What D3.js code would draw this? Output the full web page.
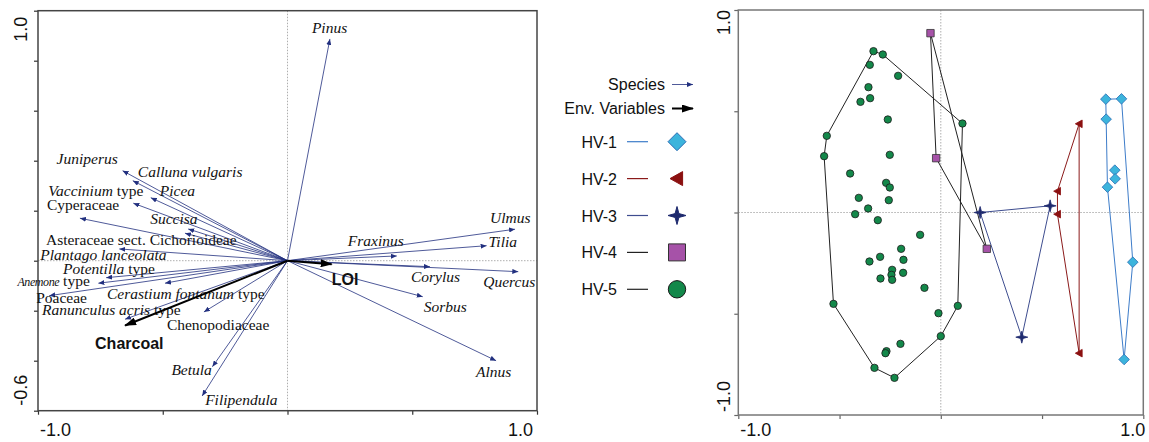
<!DOCTYPE html>
<html><head><meta charset="utf-8">
<script src="https://cdn.jsdelivr.net/npm/d3@7"></script>
<style>body{margin:0;background:#fff} svg{display:block}</style>
</head><body><svg id="c" width="1149" height="442"></svg>
<script>
// ---------------- DATA ----------------
const species = ["Pinus","Ulmus","Tilia","Fraxinus","Corylus","Quercus","Sorbus","Alnus",
  "Juniperus","Calluna vulgaris","Picea","Vaccinium type","Cyperaceae","Succisa",
  "Asteraceae sect. Cichorioideae","Plantago lanceolata","Potentilla type","Anemone type",
  "Cerastium fontanum type","Poaceae","Ranunculus acris type","Chenopodiaceae","Betula","Filipendula"];
const speciesAx1 = [0.170,0.912,0.798,0.438,0.571,0.925,0.542,0.836,
  -0.661,-0.620,-0.548,-0.618,-0.832,-0.398,-0.411,-0.674,-0.727,-0.758,
  -0.491,-0.955,-0.651,-0.335,-0.301,-0.342];
const speciesAx2 = [0.887,0.126,0.060,0.019,-0.024,-0.044,-0.144,-0.400,
  0.360,0.320,0.252,0.230,0.170,0.127,0.110,0.047,-0.068,-0.090,
  -0.090,-0.140,-0.234,-0.205,-0.424,-0.541];
const familyNames = ["Cyperaceae","Asteraceae sect. Cichorioideae","Poaceae","Chenopodiaceae"];

const envVars = ["Charcoal","LOI"];
const envAx1 = [-0.651, 0.177];
const envAx2 = [-0.259, -0.014];

const leftXTicks = [-1.0,-0.5,0,0.5,1.0];
const leftYTicks = [-0.6,-0.4,-0.2,0,0.2,0.4,0.6,0.8,1.0];
const leftXLabels = ["-1.0","1.0"];
const leftYLabels = ["-0.6","1.0"];
const rightTicks = [-1.0,-0.5,0,0.5,1.0];
const rightLabels = ["-1.0","1.0"];

const groups = ["HV-1","HV-2","HV-3","HV-4","HV-5"];
const hv1X = [0.8148,0.8922,0.8165,0.8593,0.8609,0.8230,0.9481,0.9053];
const hv1Y = [0.5597,0.5613,0.4609,0.2091,0.1663,0.1251,-0.2453,-0.7259];
const hv2X = [0.6831,0.5761,0.5761,0.6831];
const hv2Y = [0.4379,0.1053,-0.0082,-0.6947];
const hv3X = [0.1942,0.5399,0.4000];
const hv3Y = [0.0000,0.0329,-0.6156];
const hv4X = [-0.0510,-0.0230,0.2272];
const hv4Y = [0.8856,0.2683,-0.1794];
const hv5X = [-0.3325,-0.2864,-0.3506,-0.2107,-0.3572,-0.3490,-0.3967,-0.2617,0.1070,-0.5630,
  -0.5761,-0.2519,-0.4477,-0.2700,-0.2519,-0.4049,-0.2568,-0.3588,-0.4230,-0.3111,
  -0.1021,-0.1959,-0.1844,-0.3523,-0.2996,-0.2403,-0.2436,-0.2403,-0.1860,-0.2979,
  -0.0807,-0.5300,0.0840,-0.0115,0.0000,-0.1992,-0.2683,-0.2733,-0.3276,-0.2288];
const hv5Y = [0.7967,0.7802,0.7292,0.6749,0.6189,0.5646,0.5465,0.4593,0.4395,0.3786,
  0.2782,0.2848,0.1926,0.1465,0.1235,0.0724,0.0609,0.0198,-0.0082,-0.0379,
  -0.1103,-0.1794,-0.2337,-0.2420,-0.2189,-0.2831,-0.3078,-0.3325,-0.2979,-0.3259,
  -0.3720,-0.4510,-0.4609,-0.4971,-0.6107,-0.6486,-0.6848,-0.6947,-0.7671,-0.8165];

// ---------------- LAYOUT / STYLE ----------------
const labelOffset = { // pixel offsets of label start/baseline relative to arrow tip
  "Pinus":[-18,-6],"Ulmus":[-25,-6],"Tilia":[2,1],"Fraxinus":[-49,-10],"Corylus":[-19,15],
  "Quercus":[-35,15],"Sorbus":[1,15],"Alnus":[-20,16],"Juniperus":[-66,-7],
  "Calluna vulgaris":[5,-4],"Picea":[9,-2],"Vaccinium type":[-85,-7],"Cyperaceae":[-33,-8],
  "Succisa":[-38,-5],"Asteraceae sect. Cichorioideae":[-139,12],"Plantago lanceolata":[-79,11],
  "Potentilla type":[-43,-4],"Anemone type":[-81,3],"Cerastium fontanum type":[-58,16],
  "Poaceae":[-13,7],"Ranunculus acris type":[-83,-4],"Chenopodiaceae":[-37,18],
  "Betula":[-41,8],"Filipendula":[3,9],"Charcoal":[-30,23.5],"LOI":[0,21]
};
const speciesColor = "#22307f";
const groupStyle = {
  "HV-1":{line:"#3d7cc9", fill:"#3cb4dc", stroke:"#2a6cb4"},
  "HV-2":{line:"#8b1a1a", fill:"#8b1010", stroke:"#8b1010"},
  "HV-3":{line:"#3e4d8f", fill:"#1e2a6e", stroke:"#1e2a6e"},
  "HV-4":{line:"#222", fill:"#a652a8", stroke:"#333"},
  "HV-5":{line:"#222", fill:"#13884a", stroke:"#1a1a1a"}
};

const svg = d3.select("#c");
const defs = svg.append("defs");
defs.append("marker").attr("id","spArrow").attr("markerUnits","userSpaceOnUse")
  .attr("markerWidth",6).attr("markerHeight",5).attr("refX",6).attr("refY",2.5)
  .attr("orient","auto").append("path").attr("d","M0,0 L6,2.5 L0,5 Z").attr("fill",speciesColor);
defs.append("marker").attr("id","envArrow").attr("markerUnits","userSpaceOnUse")
  .attr("markerWidth",12).attr("markerHeight",8).attr("refX",11).attr("refY",4)
  .attr("orient","auto").append("path").attr("d","M0,0 L12,4 L0,8 Z").attr("fill","#000");

// ---------------- LEFT PANEL ----------------
const xL = d3.scaleLinear().domain([-1,1]).range([38,537]);
const yL = d3.scaleLinear().domain([-0.6,1.0]).range([410.7,10.7]);
const L = svg.append("g");

L.append("line").attr("x1",xL(0)).attr("x2",xL(0)).attr("y1",yL(1)).attr("y2",yL(-0.6))
  .attr("stroke","#999").attr("stroke-width",0.8).attr("stroke-dasharray","1.5,1.5");
L.append("line").attr("x1",xL(-1)).attr("x2",xL(1)).attr("y1",yL(0)).attr("y2",yL(0))
  .attr("stroke","#999").attr("stroke-width",0.8).attr("stroke-dasharray","1.5,1.5");

const axL_b = L.append("g").attr("transform",`translate(0,${yL(-0.6)})`)
  .call(d3.axisBottom(xL).tickValues(leftXTicks).tickFormat("").tickSize(4).tickSizeOuter(0));
const axL_l = L.append("g").attr("transform",`translate(${xL(-1)},0)`)
  .call(d3.axisLeft(yL).tickValues(leftYTicks).tickFormat("").tickSize(4).tickSizeOuter(0));
[axL_b,axL_l].forEach(a=>{a.select(".domain").remove(); a.selectAll("line").attr("stroke","#333").attr("stroke-width",1.2);});
L.append("rect").attr("x",xL(-1)).attr("y",yL(1)).attr("width",xL(1)-xL(-1)).attr("height",yL(-0.6)-yL(1))
  .attr("fill","none").attr("stroke","#444").attr("stroke-width",1.5);

const tickFont = "'Liberation Sans', Arial, sans-serif";
L.append("text").attr("x",xL(-1)+2).attr("y",436).attr("text-anchor","start").text(leftXLabels[0])
  .attr("font-family",tickFont).attr("font-size",18).attr("fill","#111");
L.append("text").attr("x",xL(1)-4).attr("y",436).attr("text-anchor","end").text(leftXLabels[1])
  .attr("font-family",tickFont).attr("font-size",18).attr("fill","#111");
L.append("text").attr("transform",`translate(27,${yL(1)+6}) rotate(-90)`).attr("text-anchor","end").text(leftYLabels[1])
  .attr("font-family",tickFont).attr("font-size",18).attr("fill","#111");
L.append("text").attr("transform",`translate(27,${yL(-0.6)-5}) rotate(-90)`).attr("text-anchor","start").text(leftYLabels[0])
  .attr("font-family",tickFont).attr("font-size",18).attr("fill","#111");

// species arrows
const spData = species.map((n,i)=>({name:n, x:speciesAx1[i], y:speciesAx2[i]}));
L.selectAll(".sp").data(spData).join("line").attr("class","sp")
  .attr("x1",xL(0)).attr("y1",yL(0)).attr("x2",d=>xL(d.x)).attr("y2",d=>yL(d.y))
  .attr("stroke",speciesColor).attr("stroke-width",0.8).attr("marker-end","url(#spArrow)");

function labelParts(name){
  if (familyNames.includes(name)) return [[name,false]];
  if (name.endsWith(" type")) return [[name.slice(0,-5),true],[" type",false]];
  return [[name,true]];
}
const spText = L.selectAll(".spl").data(spData).join("text").attr("class","spl")
  .attr("x",d=>xL(d.x)+labelOffset[d.name][0]).attr("y",d=>yL(d.y)+labelOffset[d.name][1])
  .attr("font-family","'Liberation Serif','Times New Roman',serif").attr("font-size",15.5).attr("fill","#111");
spText.each(function(d){
  const t = d3.select(this);
  labelParts(d.name).forEach(([s,it])=>{
    const ts = t.append("tspan").text(s).attr("font-style",it?"italic":"normal");
    if (d.name==="Anemone type" && it) ts.attr("font-size",12).attr("letter-spacing",-0.4);
  });
});

// env arrows
const envData = envVars.map((n,i)=>({name:n, x:envAx1[i], y:envAx2[i]}));
L.selectAll(".env").data(envData).join("line").attr("class","env")
  .attr("x1",xL(0)).attr("y1",yL(0)).attr("x2",d=>xL(d.x)).attr("y2",d=>yL(d.y))
  .attr("stroke","#000").attr("stroke-width",2).attr("marker-end","url(#envArrow)");
L.selectAll(".envl").data(envData).join("text").attr("class","envl")
  .attr("x",d=>xL(d.x)+labelOffset[d.name][0]).attr("y",d=>yL(d.y)+labelOffset[d.name][1])
  .attr("font-family",tickFont).attr("font-weight","bold").attr("font-size",16).attr("fill","#111")
  .text(d=>d.name);

// ---------------- RIGHT PANEL ----------------
const xR = d3.scaleLinear().domain([-1,1]).range([738.3,1143.3]);
const yR = d3.scaleLinear().domain([-1,1]).range([415,10]);
const R = svg.append("g");
R.append("line").attr("x1",xR(0)).attr("x2",xR(0)).attr("y1",yR(1)).attr("y2",yR(-1))
  .attr("stroke","#999").attr("stroke-width",0.8).attr("stroke-dasharray","1.5,1.5");
R.append("line").attr("x1",xR(-1)).attr("x2",xR(1)).attr("y1",yR(0)).attr("y2",yR(0))
  .attr("stroke","#999").attr("stroke-width",0.8).attr("stroke-dasharray","1.5,1.5");
const axR_b = R.append("g").attr("transform",`translate(0,${yR(-1)})`)
  .call(d3.axisBottom(xR).tickValues(rightTicks).tickFormat("").tickSize(4).tickSizeOuter(0));
const axR_l = R.append("g").attr("transform",`translate(${xR(-1)},0)`)
  .call(d3.axisLeft(yR).tickValues(rightTicks).tickFormat("").tickSize(4).tickSizeOuter(0));
[axR_b,axR_l].forEach(a=>{a.select(".domain").remove(); a.selectAll("line").attr("stroke","#666").attr("stroke-width",1.2);});
R.append("rect").attr("x",xR(-1)).attr("y",yR(1)).attr("width",xR(1)-xR(-1)).attr("height",yR(-1)-yR(1))
  .attr("fill","none").attr("stroke","#777").attr("stroke-width",1.5);
R.append("text").attr("x",xR(-1)+2).attr("y",436).attr("text-anchor","start").text(rightLabels[0])
  .attr("font-family",tickFont).attr("font-size",18).attr("fill","#111");
R.append("text").attr("x",xR(1)+2).attr("y",436).attr("text-anchor","end").text(rightLabels[1])
  .attr("font-family",tickFont).attr("font-size",18).attr("fill","#111");
R.append("text").attr("transform",`translate(730,${yR(1)}) rotate(-90)`).attr("text-anchor","end").text(rightLabels[1])
  .attr("font-family",tickFont).attr("font-size",18).attr("fill","#111");
R.append("text").attr("transform",`translate(730,${yR(-1)-3}) rotate(-90)`).attr("text-anchor","start").text(rightLabels[0])
  .attr("font-family",tickFont).attr("font-size",18).attr("fill","#111");

// symbol paths
function star4(R0, r0){
  const p=[]; for(let i=0;i<8;i++){const a=i*Math.PI/4-Math.PI/2; const r=i%2?r0:R0; p.push([r*Math.cos(a), r*Math.sin(a)]);}
  return "M"+p.map(q=>q.join(",")).join("L")+"Z";
}
const symbolPath = {
  "HV-1": s=>`M0,${-s}L${s},0L0,${s}L${-s},0Z`,
  "HV-2": s=>`M${-s},0L${s*0.8},${-s}L${s*0.8},${s}Z`,
  "HV-3": s=>star4(s, s*0.3),
  "HV-4": s=>`M${-s},${-s}L${s},${-s}L${s},${s}L${-s},${s}Z`,
  "HV-5": s=>`M${s},0A${s},${s} 0 1,1 ${-s},0A${s},${s} 0 1,1 ${s},0Z`
};
const plotSize = {"HV-1":5.3,"HV-2":3.8,"HV-3":6,"HV-4":3.7,"HV-5":3.7};
const legendSize = {"HV-1":9,"HV-2":7,"HV-3":9,"HV-4":8.5,"HV-5":8.7};

const groupX = [hv1X,hv2X,hv3X,hv4X,hv5X];
const groupY = [hv1Y,hv2Y,hv3Y,hv4Y,hv5Y];
// draw hull lines first
groups.forEach((g,gi)=>{
  const pts = groupX[gi].map((x,i)=>[xR(x), yR(groupY[gi][i])]);
  const hull = d3.polygonHull(pts);
  R.append("path").attr("d","M"+hull.map(p=>p.join(",")).join("L")+"Z")
    .attr("fill","none").attr("stroke",groupStyle[g].line).attr("stroke-width",1);
});
groups.forEach((g,gi)=>{
  const pts = groupX[gi].map((x,i)=>[xR(x), yR(groupY[gi][i])]);
  R.selectAll(".m"+gi).data(pts).join("path").attr("class","m"+gi)
    .attr("transform",p=>`translate(${p[0]},${p[1]})`).attr("d",symbolPath[g](plotSize[g]))
    .attr("fill",groupStyle[g].fill).attr("stroke",groupStyle[g].stroke).attr("stroke-width",0.8);
});

// ---------------- LEGEND ----------------
const Lg = svg.append("g");
const lgFont = tickFont;
Lg.append("text").attr("x",665).attr("y",89.5).attr("text-anchor","end").text("Species")
  .attr("font-family",lgFont).attr("font-size",16).attr("fill","#111");
Lg.append("line").attr("x1",672).attr("x2",693).attr("y1",84.5).attr("y2",84.5)
  .attr("stroke",speciesColor).attr("stroke-width",0.8).attr("marker-end","url(#spArrow)");
Lg.append("text").attr("x",665).attr("y",113.5).attr("text-anchor","end").text("Env. Variables")
  .attr("font-family",lgFont).attr("font-size",16).attr("fill","#111");
Lg.append("line").attr("x1",672).attr("x2",693).attr("y1",108.5).attr("y2",108.5)
  .attr("stroke","#000").attr("stroke-width",2).attr("marker-end","url(#envArrow)");
const lgY = d3.scalePoint().domain(groups).range([141.7,289.3]);
groups.forEach(g=>{
  const cy = lgY(g);
  Lg.append("text").attr("x",617).attr("y",cy+6).attr("text-anchor","end").text(g)
    .attr("font-family",lgFont).attr("font-size",16).attr("fill","#111");
  Lg.append("line").attr("x1",627).attr("x2",648).attr("y1",cy).attr("y2",cy)
    .attr("stroke",groupStyle[g].line).attr("stroke-width",1.2);
  Lg.append("path").attr("transform",`translate(677,${cy})`).attr("d",symbolPath[g](legendSize[g]))
    .attr("fill",groupStyle[g].fill).attr("stroke",groupStyle[g].stroke).attr("stroke-width",1);
});
</script></body></html>
